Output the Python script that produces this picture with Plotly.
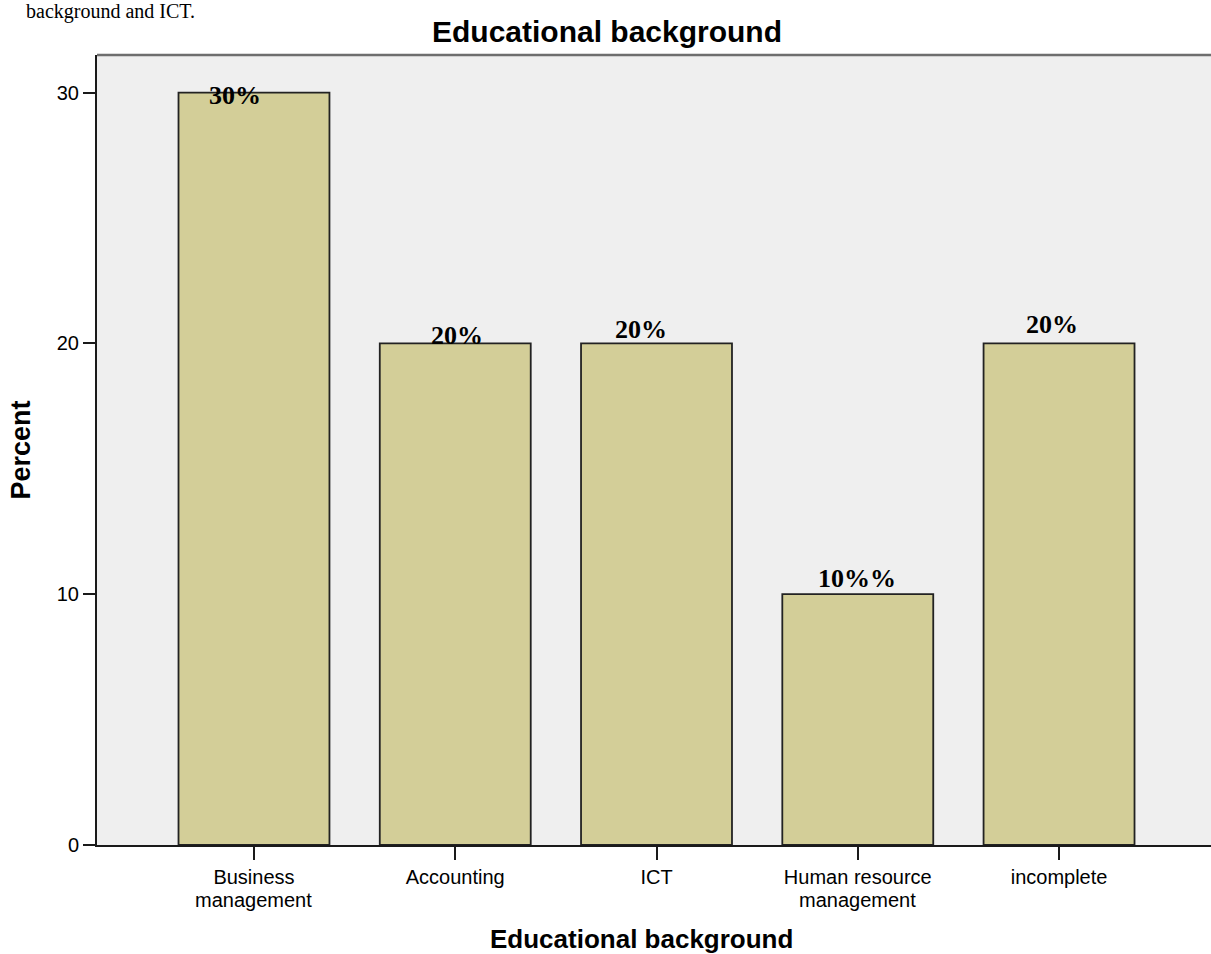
import plotly.graph_objects as go

# Survey: educational background of respondents (percent)
categories = ["Business<br>management", "Accounting", "ICT",
              "Human resource<br>management", "incomplete"]
percents = [30, 20, 20, 10, 20]
value_labels = ["30%", "20%", "20%", "10%%", "20%"]
y_ticks = [0, 10, 20, 30]

# hand-placed label nudges (pixels) as in the original SPSS output
label_dx = [-19, 2, -16, -1, -7]
label_dy = [-3, 8, 14, 16, 19]

BAR_FILL = "#D3CE98"
PLOT_BG = "#EFEFEF"
FIG_W, FIG_H = 1211, 954
MARGIN_L, MARGIN_R = 97, 0
PLOT_W = FIG_W - MARGIN_L - MARGIN_R
SANS = "Liberation Sans, Arial, sans-serif"
SERIF = "Liberation Serif, Times New Roman, serif"

first_lines = [c.split("<br>")[0] for c in categories]
second_lines = [c.split("<br>")[1] if "<br>" in c else "" for c in categories]

fig = go.Figure()
fig.add_trace(go.Bar(
    x=list(range(len(categories))),
    y=percents,
    width=0.75,
    marker=dict(color=BAR_FILL, line=dict(color="#222222", width=1.8)),
    hoverinfo="skip",
))

annotations = []
for i, (v, lab) in enumerate(zip(percents, value_labels)):
    annotations.append(dict(
        x=i, y=v, xref="x", yref="y", text=lab, showarrow=False,
        xanchor="center", yanchor="middle",
        xshift=label_dx[i], yshift=label_dy[i],
        font=dict(family=SERIF, size=26, color="black", weight="bold"),
    ))

# second line of wrapped category names
for i, line in enumerate(second_lines):
    if line:
        annotations.append(dict(
            x=i, y=0, xref="x", yref="y", text=line, showarrow=False,
            xanchor="center", yanchor="middle", yshift=-55,
            font=dict(family=SANS, size=20, color="black"),
        ))

# x-axis title
annotations.append(dict(
    x=(641 - MARGIN_L) / PLOT_W, y=0, xref="paper", yref="paper",
    text="<b>Educational background</b>", showarrow=False,
    xanchor="center", yanchor="middle", yshift=-94,
    font=dict(family=SANS, size=26, color="black"),
))

# trailing line of the surrounding document text at the top edge
annotations.append(dict(
    x=0, y=1, xref="paper", yref="paper", text="background and ICT.",
    showarrow=False, xanchor="right", yanchor="middle",
    xshift=100, yshift=44,
    font=dict(family=SERIF, size=20, color="black"),
))

fig.update_layout(
    width=FIG_W, height=FIG_H,
    margin=dict(l=MARGIN_L, r=MARGIN_R, t=55, b=109),
    paper_bgcolor="white",
    plot_bgcolor=PLOT_BG,
    showlegend=False,
    bargap=0.25,
    title=dict(
        text="<b>Educational background</b>",
        x=607 / FIG_W, xref="container", xanchor="center",
        y=(FIG_H - 31) / FIG_H, yref="container", yanchor="middle",
        font=dict(family=SANS, size=30, color="black"),
    ),
    annotations=annotations,
    xaxis=dict(
        tickmode="array",
        tickvals=list(range(len(categories))),
        ticktext=first_lines,
        range=[-0.78, 4.755],
        showgrid=False, zeroline=False,
        showline=True, linecolor="#1a1a1a", linewidth=2,
        ticks="outside", ticklen=13, tickwidth=2, tickcolor="#1a1a1a",
        tickfont=dict(family=SANS, size=20, color="black"),
    ),
    yaxis=dict(
        tickmode="array",
        tickvals=y_ticks,
        range=[0, 31.5],
        showgrid=False, zeroline=False,
        showline=True, linecolor="#1a1a1a", linewidth=2,
        ticks="outside", ticklen=12, tickwidth=2, tickcolor="#1a1a1a",
        tickfont=dict(family=SANS, size=20, color="black"),
        title=dict(
            text="<b>Percent</b>",
            font=dict(family=SANS, size=27, color="black"),
            standoff=18,
        ),
    ),
    shapes=[dict(
        type="line", xref="paper", yref="paper",
        x0=0, x1=1, y0=1, y1=1,
        line=dict(color="#6e6e6e", width=2.5),
    )],
)

fig.write_html("out.html")
